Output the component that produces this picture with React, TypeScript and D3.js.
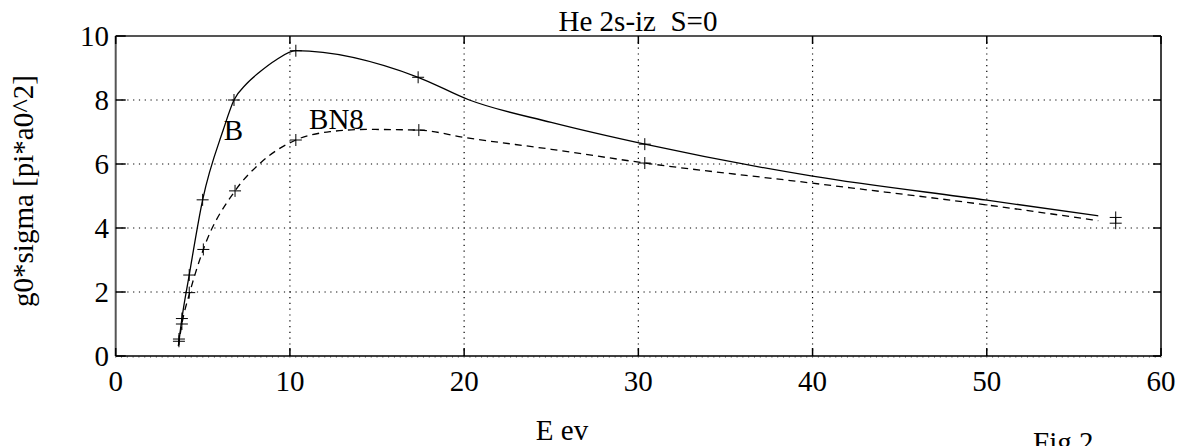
import React from "react";
import * as d3 from "d3";

// Curve (fit) samples
const solidCurveE = [3.6, 3.8, 4.22, 4.99, 6.17, 6.79, 7.5, 8.28, 9.2, 10.34, 17.36, 20.3, 25, 30.37, 40, 50, 56.4];
const solidCurveV = [0.32, 1.17, 2.53, 4.88, 7.06, 8.0, 8.5, 8.88, 9.25, 9.54, 8.71, 8.0, 7.3, 6.62, 5.62, 4.87, 4.38];
const dashCurveE = [3.6, 3.8, 4.25, 5.03, 6.85, 8.28, 10.34, 12.3, 14.4, 17.4, 20, 25, 30.37, 40, 50, 56.4];
const dashCurveV = [0.32, 1.0, 1.98, 3.33, 5.16, 6.02, 6.75, 7.01, 7.08, 7.06, 6.83, 6.46, 6.03, 5.4, 4.72, 4.23];

// Marker data points
const solidPtsE = [3.63, 3.8, 4.22, 4.99, 6.79, 10.34, 17.36, 30.37, 57.4];
const solidPtsV = [0.53, 1.17, 2.53, 4.88, 8.0, 9.54, 8.71, 6.62, 4.33];
const dashPtsE = [3.63, 3.8, 4.22, 5.03, 6.85, 10.34, 17.4, 30.37, 57.4];
const dashPtsV = [0.46, 1.0, 1.98, 3.33, 5.16, 6.75, 7.06, 6.03, 4.15];

const xTicks = [0, 10, 20, 30, 40, 50, 60];
const yTicks = [0, 2, 4, 6, 8, 10];

const title = "He 2s-iz  S=0";
const xLabel = "E ev";
const yLabel = "g0*sigma [pi*a0^2]";
const figLabel = "Fig 2";
const solidName = "B";
const dashName = "BN8";

export default function App() {
  const W = 1186, H = 446;
  const left = 115.7, right = 1161, top = 36, bottom = 356;
  const x = d3.scaleLinear().domain([0, 60]).range([left, right]);
  const y = d3.scaleLinear().domain([0, 10]).range([bottom, top]);
  const line = d3
    .line<[number, number]>()
    .x((d) => x(d[0]))
    .y((d) => y(d[1]))
    .curve(d3.curveMonotoneX);
  const solidPath = line(solidCurveE.map((e, i) => [e, solidCurveV[i]]) as [number, number][]) || "";
  const dashPath = line(dashCurveE.map((e, i) => [e, dashCurveV[i]]) as [number, number][]) || "";
  const font = "'Liberation Serif', 'Times New Roman', Times, serif";
  const fs = 29;
  const minor = d3.range(0, 60.0001, 1 / 3);
  const tStyle = { fontFamily: font, fontSize: fs, whiteSpace: "pre" as const };
  const plus = (cx: number, cy: number, k: string) => (
    <g key={k} stroke="#000" strokeWidth={1}>
      <line x1={cx - 6} x2={cx + 6} y1={cy} y2={cy} />
      <line x1={cx} x2={cx} y1={cy - 6} y2={cy + 6} />
    </g>
  );
  return (
    <svg width={W} height={H} style={{ position: "absolute", left: 0, top: 0, background: "#fff" }}>
      <rect x={0} y={0} width={W} height={H} fill="#fff" />
      {/* grid */}
      <g stroke="#000" strokeWidth={1.2} strokeDasharray="1.2 4.6">
        {xTicks.slice(1, -1).map((t) => (
          <line key={"gx" + t} x1={x(t)} x2={x(t)} y1={top} y2={bottom} />
        ))}
        {yTicks.slice(1, -1).map((t) => (
          <line key={"gy" + t} x1={left} x2={right} y1={y(t)} y2={y(t)} />
        ))}
      </g>
      {/* minor ticks bottom */}
      <g stroke="#555" strokeWidth={0.6}>
        {minor.map((t, i) => (
          <line key={"m" + i} x1={x(t)} x2={x(t)} y1={bottom} y2={bottom + 2} />
        ))}
      </g>
      {/* frame */}
      <line x1={left} x2={right} y1={top} y2={top} stroke="#555" strokeWidth={2} />
      <line x1={left} x2={left} y1={top} y2={bottom} stroke="#555" strokeWidth={2} />
      <line x1={right} x2={right} y1={top} y2={bottom} stroke="#000" strokeWidth={1.5} />
      <line x1={left} x2={right} y1={bottom} y2={bottom} stroke="#000" strokeWidth={1.5} />
      {/* major ticks */}
      <g stroke="#000" strokeWidth={1.5}>
        {xTicks.map((t) => (
          <g key={"tx" + t}>
            <line x1={x(t)} x2={x(t)} y1={bottom} y2={bottom - 8} />
            <line x1={x(t)} x2={x(t)} y1={top} y2={top + 8} />
          </g>
        ))}
        {yTicks.map((t) => (
          <g key={"ty" + t}>
            <line x1={left} x2={left + 10} y1={y(t)} y2={y(t)} />
            <line x1={right} x2={right - 8} y1={y(t)} y2={y(t)} />
          </g>
        ))}
      </g>
      {/* tick labels */}
      <g fill="#000">
        {xTicks.map((t) => (
          <text key={"lx" + t} x={x(t)} y={391} textAnchor="middle" style={tStyle}>
            {t}
          </text>
        ))}
        {yTicks.map((t) => (
          <text key={"ly" + t} x={109} y={y(t) + 10} textAnchor="end" style={tStyle}>
            {t}
          </text>
        ))}
      </g>
      {/* curves */}
      <path d={solidPath} fill="none" stroke="#000" strokeWidth={1.3} />
      <path d={dashPath} fill="none" stroke="#000" strokeWidth={1.3} strokeDasharray="7 5" />
      {solidPtsE.map((e, i) => plus(x(e), y(solidPtsV[i]), "s" + i))}
      {dashPtsE.map((e, i) => plus(x(e), y(dashPtsV[i]), "d" + i))}
      {/* labels */}
      <g fill="#000">
        <text x={x(6.2)} y={y(6.75)} style={tStyle}>{solidName}</text>
        <text x={x(11.1)} y={y(7.1)} style={tStyle}>{dashName}</text>
        <text x={638} y={31} textAnchor="middle" style={tStyle}>{title}</text>
        <text x={562} y={440} textAnchor="middle" style={tStyle}>{xLabel}</text>
        <text x={1033} y={452} style={tStyle}>{figLabel}</text>
        <text transform={`translate(33, ${191}) rotate(-90)`} textAnchor="middle" style={tStyle}>{yLabel}</text>
      </g>
    </svg>
  );
}
